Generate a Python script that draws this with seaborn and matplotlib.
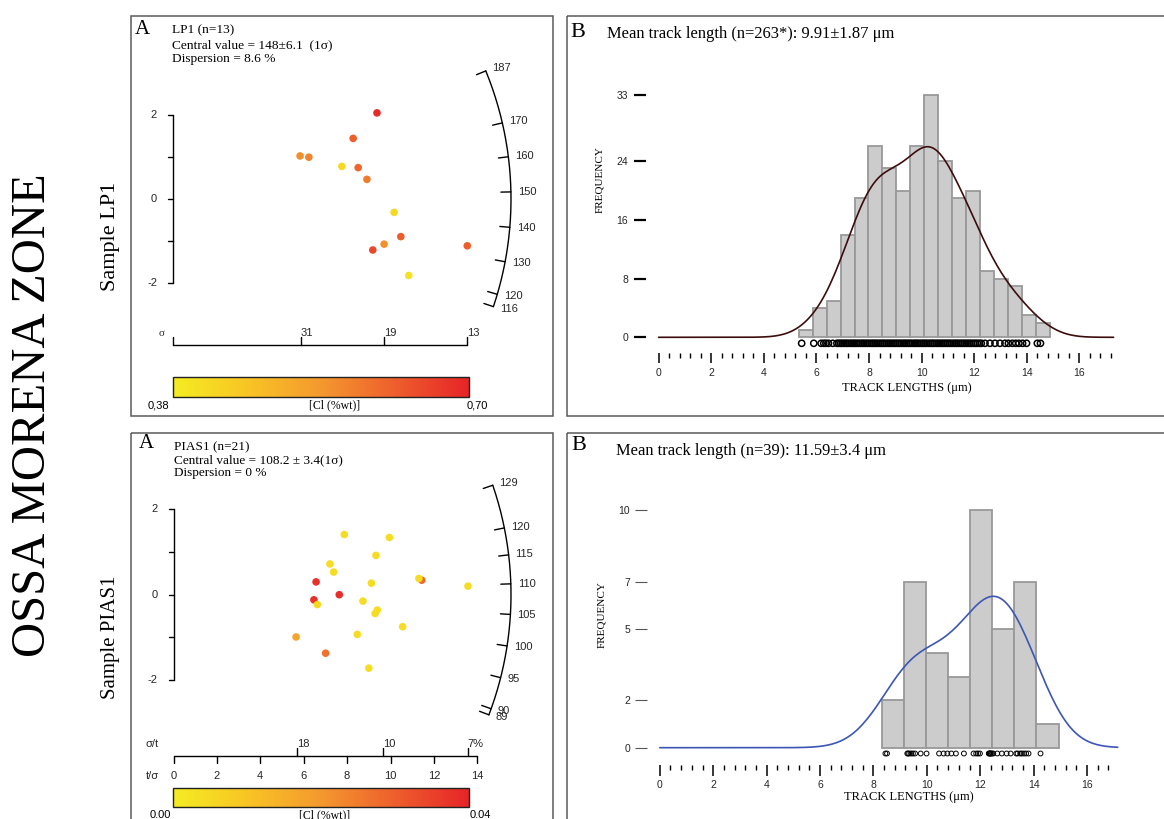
import numpy as np
import matplotlib
matplotlib.use("Agg")
import matplotlib.pyplot as plt
from matplotlib.colors import LinearSegmentedColormap, Normalize
from matplotlib.cm import ScalarMappable
from matplotlib.patches import Rectangle
from matplotlib.ticker import FixedLocator
import seaborn as sns

# ---------------------------------------------------------------- data
# LP1 radial plot: precision (x), standardised estimate (z), Cl content (wt %)
lp1_x = [4.88, 4.31, 3.04, 3.25, 4.04, 4.43, 4.64, 5.29, 5.45, 5.05, 4.78, 5.64, 7.04]
lp1_z = [2.06, 1.45, 1.03, 1.00, 0.78, 0.75, 0.47, -0.32, -0.90, -1.08, -1.22, -1.83, -1.12]
lp1_cl = [0.69, 0.62, 0.55, 0.57, 0.42, 0.61, 0.58, 0.42, 0.62, 0.55, 0.65, 0.40, 0.62]
lp1_central = 148.0
lp1_age_ticks = [187, 170, 160, 150, 140, 130, 120, 116]
lp1_sigma_pos = [3.06, 5.05, 7.04]
lp1_sigma_labels = ["31", "19", "13"]
lp1_cl_range = (0.38, 0.70)

# PIAS1 radial plot: t/sigma (x), standardised estimate (z), Cl content (wt %)
pias_x = [7.87, 9.95, 9.33, 7.21, 7.38, 6.57, 9.12, 11.44, 11.31, 13.57, 7.64,
          6.47, 6.63, 8.73, 9.39, 9.29, 10.56, 5.65, 8.47, 7.01, 9.00]
pias_z = [1.41, 1.34, 0.92, 0.72, 0.53, 0.30, 0.27, 0.34, 0.38, 0.20, 0.00,
          -0.12, -0.23, -0.15, -0.36, -0.44, -0.75, -0.99, -0.93, -1.37, -1.72]
pias_cl = [0.004, 0.004, 0.004, 0.004, 0.004, 0.038, 0.004, 0.028, 0.004, 0.004, 0.038,
           0.038, 0.005, 0.004, 0.004, 0.004, 0.004, 0.017, 0.004, 0.027, 0.004]
pias_central = 108.2
pias_age_ticks = [129, 120, 115, 110, 105, 100, 95, 90, 89]
pias_ts_ticks = [0, 2, 4, 6, 8, 10, 12, 14]
pias_st_pos = [5.69, 9.64, 13.56]
pias_st_labels = ["18", "10", "7%"]
pias_cl_range = (0.00, 0.04)

# LP1 track-length histogram (binned counts) and measured lengths
lp1_bin_start, lp1_bin_width = 5.33, 0.53
lp1_counts = [1, 4, 5, 14, 19, 26, 23, 20, 26, 33, 24, 19, 20, 9, 8, 7, 3, 2]
lp1_rug = [5.44, 5.90, 6.18, 6.28, 6.36, 6.46, 6.62,
           6.78, 6.85, 6.92, 6.98, 7.05, 7.12, 7.18, 7.26, 7.33, 7.40, 7.46, 7.53,
           7.60, 7.68, 7.75, 7.81, 7.88, 7.95, 8.02, 8.10, 8.16, 8.23, 8.30, 8.38,
           8.45, 8.52, 8.58, 8.66, 8.73, 8.80, 8.87, 8.94, 9.01, 9.08, 9.15, 9.22,
           9.30, 9.36, 9.43, 9.50, 9.57, 9.64, 9.72, 9.78, 9.85, 9.92, 10.00, 10.06,
           10.13, 10.20, 10.28, 10.35, 10.42, 10.48, 10.56, 10.63, 10.70, 10.77,
           10.84, 10.91, 10.98, 11.05, 11.12, 11.20, 11.27, 11.33, 11.40, 11.48,
           11.55, 11.62, 11.69, 11.76, 11.83, 11.90, 11.98, 12.05, 12.12, 12.20, 12.27,
           12.41, 12.60, 12.79, 12.98, 13.17, 13.30, 13.45, 13.58, 13.70, 13.84, 13.99,
           14.40, 14.52]

# PIAS1 individual track lengths (um)
pias_bin_start, pias_bin_width = 8.31, 0.828
pias_lengths = [8.45, 8.51, 9.27, 9.30, 9.34, 9.41, 9.48, 9.56, 9.77, 9.99, 10.46,
                10.63, 10.77, 10.92, 11.09, 11.39, 11.75, 11.85, 11.92, 11.99, 12.32,
                12.34, 12.36, 12.38, 12.40, 12.44, 12.49, 12.64, 12.81, 12.99, 13.14,
                13.35, 13.40, 13.50, 13.56, 13.64, 13.72, 13.81, 14.26]

x_major = [0, 2, 4, 6, 8, 10, 12, 14, 16]
lp1_freq_ticks = [0, 8, 16, 24, 33]
pias_freq_ticks = [0, 2, 5, 7, 10]

# ---------------------------------------------------------------- style
sns.set_theme(style="white")
SERIF = ["Liberation Serif", "DejaVu Serif"]
SANS = ["Liberation Sans", "DejaVu Sans"]
plt.rcParams["font.family"] = SANS
plt.rcParams["axes.facecolor"] = "none"

cl_cmap = LinearSegmentedColormap.from_list(
    "cl", ["#f4ec22", "#f8c424", "#f4982e", "#ee5e2c", "#e62428"])

W, H, DPI = 1164, 819, 100
fig = plt.figure(figsize=(W / DPI, H / DPI), dpi=DPI)
fig.patch.set_facecolor("white")


def px_axes(l, t, r, b, zorder=1):
    ax = fig.add_axes([l / W, 1 - b / H, (r - l) / W, (b - t) / H], zorder=zorder)
    ax.patch.set_alpha(0)
    return ax


# page layer in pixel units: frames and free text
page = px_axes(0, 0, W, H, zorder=0)
page.set_xlim(0, W)
page.set_ylim(H, 0)
page.axis("off")

for (l, t, r, b) in [(130.5, 15.5, 552.5, 416), (566.5, 15.5, 1175, 416),
                     (130.5, 432.5, 552.5, 830), (566.5, 432.5, 1175, 830)]:
    page.add_patch(Rectangle((l, t), r - l, b - t, fill=False, ec="#5a5a5a", lw=1.1))


def ptext(x, y, s, size, family=SERIF, **kw):
    kw.setdefault("ha", "left")
    kw.setdefault("va", "center")
    page.text(x, y, s, fontsize=size, family=family, color="black", **kw)


ptext(33, 415, "OSSA MORENA ZONE", 35, ha="center", rotation=90)
ptext(111, 236, "Sample LP1", 16, ha="center", rotation=90)
ptext(111, 637, "Sample PIAS1", 15, ha="center", rotation=90)

ptext(142, 29, "A", 15, ha="center")
ptext(172.3, 30.7, "LP1 (n=13)", 9.6)
ptext(172.3, 45, "Central value = 148±6.1  (1σ)", 9.6)
ptext(172.3, 59, "Dispersion = 8.6 %", 9.6)

ptext(146.7, 444, "A", 15, ha="center")
ptext(174, 447.3, "PIAS1 (n=21)", 9.5)
ptext(174, 460.3, "Central value = 108.2 ± 3.4(1σ)", 9.5)
ptext(174, 472.7, "Dispersion = 0 %", 9.5)

ptext(578, 32.5, "B", 16, ha="center")
ptext(607, 34.3, "Mean track length (n=263*): 9.91±1.87 μm", 11.9)
ptext(579.3, 445, "B", 16, ha="center")
ptext(616, 450.7, "Mean track length (n=39): 11.59±3.4 μm", 11.9)

ptext(600, 180, "FREQUENCY", 8, ha="center", rotation=90)
ptext(601.3, 615, "FREQUENCY", 8, ha="center", rotation=90)
ptext(907, 388, "TRACK LENGTHS (μm)", 9, ha="center")
ptext(909, 796.7, "TRACK LENGTHS (μm)", 9, ha="center")


# ---------------------------------------------------------------- radial plots
def radial(box, origin, sx, sy, x, z, cl, cl_range, R, ages, angle_of):
    l, t, r, b = box
    ox, oy = origin
    ax = px_axes(l, t, r, b, zorder=2)
    sns.scatterplot(x=x, y=z, hue=cl, palette=cl_cmap, hue_norm=cl_range, s=30,
                    linewidth=0, legend=False, ax=ax, zorder=3)
    ax.set_xlim((l - ox) / sx, (r - ox) / sx)
    ax.set_ylim((oy - b) / sy, (oy - t) / sy)
    ax.axis("off")

    # age scale on the arc
    th = angle_of(np.asarray(ages, dtype=float))
    tt = np.linspace(th.min(), th.max(), 300)
    ax.plot(R * np.cos(tt) / sx, R * np.sin(tt) / sy, color="black", lw=1.0)
    for a, ang in zip(ages, th):
        c, s = np.cos(ang), np.sin(ang)
        ax.plot([(R - 10) * c / sx, R * c / sx], [(R - 10) * s / sy, R * s / sy],
                color="black", lw=1.0)
        ax.text((R + 7) * c / sx, (R + 7) * s / sy, str(a), ha="left", va="center",
                fontsize=8, family=SANS)

    # standardised estimate axis
    ax.plot([0, 0], [-2, 2], color="black", lw=1.0)
    for v in [-2, -1, 0, 1, 2]:
        ax.plot([-5 / sx, 0], [v, v], color="black", lw=1.0)
    for v in [-2, 0, 2]:
        ax.text(-16 / sx, v, f"{v}", ha="right", va="center", fontsize=8, family=SANS)
    return ax


# LP1
ox1, oy1, s1 = 173.0, 199.0, 41.8
ax1 = radial((131, 16, 552, 415), (ox1, oy1), s1, s1, lp1_x, lp1_z, lp1_cl, lp1_cl_range,
             338, lp1_age_ticks, lambda t: np.arctan(0.0105 * (t - lp1_central)))
ya = (oy1 - 345) / s1
ax1.plot([0, lp1_sigma_pos[-1]], [ya, ya], color="black", lw=1.0)
for xv in [0] + lp1_sigma_pos:
    ax1.plot([xv, xv], [ya, ya + 8 / s1], color="black", lw=1.0)
for xv, lab in zip(lp1_sigma_pos, lp1_sigma_labels):
    ax1.text(xv, (oy1 - 333) / s1, lab, ha="left", va="center", fontsize=8, family=SANS)
ax1.text((161.7 - ox1) / s1, (oy1 - 334) / s1, "σ", ha="center", va="center",
         fontsize=8, family=SERIF)

# PIAS1
ox2, oy2, sx2, sy2 = 173.5, 594.7, 21.7, 42.7
ax2 = radial((131, 433, 552, 819), (ox2, oy2), sx2, sy2, pias_x, pias_z, pias_cl,
             pias_cl_range, 337.5, pias_age_ticks,
             lambda t: np.arctan(1.95 * np.log(t / pias_central)))
ya = (oy2 - 756) / sy2
ax2.plot([0, 14], [ya, ya], color="black", lw=1.0)
for xv in pias_ts_ticks:
    ax2.plot([xv, xv], [ya, ya - 7 / sy2], color="black", lw=1.0)
    ax2.text(xv, (oy2 - 775.7) / sy2, str(xv), ha="center", va="center",
             fontsize=8, family=SANS)
for xv, lab in zip(pias_st_pos, pias_st_labels):
    ax2.plot([xv, xv], [ya, ya + 8 / sy2], color="black", lw=1.0)
    ax2.text(xv, (oy2 - 744) / sy2, lab, ha="left", va="center", fontsize=8, family=SANS)
ax2.text((152 - ox2) / sx2, (oy2 - 744) / sy2, "σ/t", ha="center", va="center",
         fontsize=8, family=SANS)
ax2.text((152 - ox2) / sx2, (oy2 - 775.7) / sy2, "t/σ", ha="center", va="center",
         fontsize=8, family=SANS)


# ---------------------------------------------------------------- colour bars
def cl_bar(box, cl_range):
    cax = px_axes(*box, zorder=2)
    sm = ScalarMappable(norm=Normalize(*cl_range), cmap=cl_cmap)
    cb = fig.colorbar(sm, cax=cax, orientation="horizontal")
    cb.set_ticks([])
    cb.outline.set_linewidth(1.0)
    cb.outline.set_edgecolor("#222222")


cl_bar((173.3, 377.3, 469, 396.7), lp1_cl_range)
ptext(169.5, 405, "0,38", 8, family=SANS, ha="right")
ptext(334.5, 405, "[Cl (%wt)]", 8.5, ha="center")
ptext(467, 405, "0,70", 8, family=SANS)

cl_bar((173.3, 787.7, 469.3, 806.7), pias_cl_range)
ptext(160, 815, "0.00", 8, family=SANS, ha="center")
ptext(324.3, 815, "[Cl (%wt)]", 8.5, ha="center")
ptext(480, 815, "0.04", 8, family=SANS, ha="center")


# ---------------------------------------------------------------- track lengths
def length_axes(box, origin, sx, sy, spine_x_px, spine_y_px):
    l, t, r, b = box
    ox, oy = origin
    ax = px_axes(l, t, r, b, zorder=2)
    return ax, ((l - ox) / sx, (r - ox) / sx), ((oy - b) / sy, (oy - t) / sy), \
        (spine_x_px - ox) / sx, (oy - spine_y_px) / sy


def style_length_axes(ax, xlim, ylim, sx_pos, sy_pos, yticks, minor, ytick_kw, xtick_len):
    ax.set_xlim(*xlim)
    ax.set_ylim(*ylim)
    ax.set_xlabel("")
    ax.set_ylabel("")
    for s in ["top", "right"]:
        ax.spines[s].set_visible(False)
    ax.spines["left"].set_position(("data", sx_pos))
    ax.spines["left"].set_color("none")
    ax.spines["bottom"].set_position(("data", sy_pos))
    ax.spines["bottom"].set_color("none")
    ax.set_yticks(yticks)
    ax.set_xticks(x_major)
    ax.xaxis.set_minor_locator(FixedLocator(minor))
    ax.tick_params(axis="y", which="major", left=True, direction="out", labelsize=7.5,
                   **ytick_kw)
    ax.tick_params(axis="x", which="major", bottom=True, direction="out", length=xtick_len,
                   width=1.1, color="black", pad=3.5, labelsize=7.5)
    ax.tick_params(axis="x", which="minor", bottom=True, direction="out", length=3.6,
                   width=1.0, color="black")
    ax.grid(False)


# LP1
lp1_edges = [lp1_bin_start + lp1_bin_width * k for k in range(len(lp1_counts) + 1)]
lp1_centres = [(a + b) / 2 for a, b in zip(lp1_edges[:-1], lp1_edges[1:])]
ax3, xl, yl, spx, spy = length_axes((590, 60, 1160, 400), (658.6, 337.3), 26.3, 7.34,
                                    646, 353.3)
sns.histplot(x=lp1_centres, weights=lp1_counts, bins=lp1_edges, kde=True,
             kde_kws=dict(bw_adjust=0.63, cut=40, clip=(0, 17.3)),
             color="#cccccc", edgecolor="#999999", linewidth=1.3, alpha=1, ax=ax3)
kde3 = ax3.lines[-1]
kde3.set_color("#3d0d0e")
kde3.set_linewidth(1.2)
ax3.scatter(lp1_rug, [(337.3 - 343.3) / 7.34] * len(lp1_rug), s=20, facecolors="none",
            edgecolors="black", linewidths=1.1, clip_on=False, zorder=4)
style_length_axes(ax3, xl, yl, spx, spy, lp1_freq_ticks,
                  [v for v in np.round(np.arange(0, 17.3, 0.4), 1) if v % 2],
                  dict(length=8.6, width=1.6, color="black", pad=4.3), 7.2)

# PIAS1
pias_edges = [pias_bin_start + pias_bin_width * k for k in range(9)]
ax4, xl, yl, spx, spy = length_axes((590, 470, 1160, 810), (659.8, 747.7), 26.7, 23.73,
                                    647.2, 764.5)
sns.histplot(x=pias_lengths, bins=pias_edges, kde=True,
             kde_kws=dict(bw_adjust=1.35, cut=40, clip=(0, 17.15)),
             color="#cccccc", edgecolor="#999999", linewidth=1.3, alpha=1, ax=ax4)
kde4 = ax4.lines[-1]
kde4.set_color("#3b56b5")
kde4.set_linewidth(1.2)
ax4.scatter(pias_lengths, [(747.7 - 753.5) / 23.73] * len(pias_lengths), s=12,
            facecolors="none", edgecolors="black", linewidths=0.7, clip_on=False, zorder=4)
style_length_axes(ax4, xl, yl, spx, spy, pias_freq_ticks,
                  [v for v in np.round(np.arange(0, 16.9, 0.4), 1) if v % 2],
                  dict(length=8.3, width=0.8, color="#555555", pad=4.0), 8.0)

fig.savefig("out.png", dpi=DPI, facecolor="white")
